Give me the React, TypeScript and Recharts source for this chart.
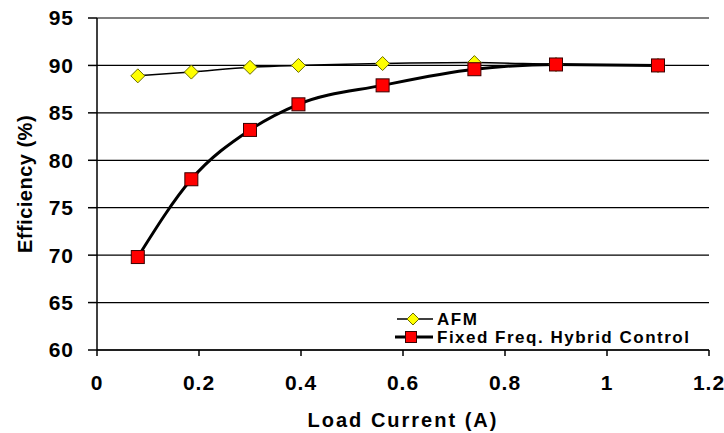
import React from "react";
import { CartesianGrid, Line, LineChart, XAxis, YAxis } from "recharts";

const loadCurrent = [0.08, 0.185, 0.3, 0.395, 0.56, 0.74, 0.9, 1.1];
const afmEfficiency = [88.9, 89.3, 89.8, 90.0, 90.2, 90.3, 90.1, 90.0];
const hybridEfficiency = [69.8, 78.0, 83.2, 85.9, 87.9, 89.6, 90.1, 90.0];
const xTicks = [0, 0.2, 0.4, 0.6, 0.8, 1, 1.2];
const yTicks = [60, 65, 70, 75, 80, 85, 90, 95];

const rows = loadCurrent.map((x, i) => ({
  x,
  afm: afmEfficiency[i],
  hybrid: hybridEfficiency[i],
}));

const FONT = "'Liberation Sans', Arial, sans-serif";
const W = 724;
const H = 433;

const Diamond = ({ cx, cy, r = 7 }: any) => (
  <path
    d={`M${cx},${cy - r} L${cx + r},${cy} L${cx},${cy + r} L${cx - r},${cy} Z`}
    fill="#ffff00"
    stroke="#6b6b00"
    strokeWidth={1}
  />
);

const Square = ({ cx, cy, s = 6.5 }: any) => (
  <rect
    x={cx - s}
    y={cy - s}
    width={s * 2}
    height={s * 2}
    fill="#ff0000"
    stroke="#3a0000"
    strokeWidth={1}
  />
);

// legend sits inside the plot, bottom right
const LegendBox = () => (
  <svg
    width={320}
    height={44}
    style={{ position: "absolute", left: 393, top: 306, fontFamily: FONT }}
  >
    <line x1={4} y1={13} x2={40} y2={13} stroke="#000" strokeWidth={1.5} />
    <Diamond cx={20} cy={13} r={6} />
    <text x={44} y={19} fontSize={17} fontWeight="bold" letterSpacing={1.5}>
      AFM
    </text>
    <line x1={2} y1={31} x2={40} y2={31} stroke="#000" strokeWidth={3} />
    <Square cx={18} cy={31} s={5.5} />
    <text x={44} y={37} fontSize={17} fontWeight="bold" letterSpacing={1.5}>
      Fixed Freq. Hybrid Control
    </text>
  </svg>
);

export default function App() {
  return (
    <div
      style={{
        position: "absolute",
        left: 0,
        top: 0,
        background: "#fff",
        width: W,
        height: H,
        overflow: "hidden",
      }}
    >
      <LineChart
        width={W}
        height={H}
        data={rows}
        margin={{ top: 18, right: 15, bottom: 0, left: 0 }}
        style={{ fontFamily: FONT }}
      >
        <CartesianGrid
          vertical={false}
          stroke="#000"
          strokeWidth={1.2}
          horizontalValues={yTicks}
        />
        <XAxis
          dataKey="x"
          type="number"
          domain={[0, 1.2]}
          ticks={xTicks}
          height={83}
          stroke="#000"
          strokeWidth={1.5}
          tickSize={6}
          tickMargin={19}
          tick={{ fill: "#000", fontSize: 21, fontWeight: "bold", letterSpacing: 1 }}
          label={({ viewBox }: any) => (
            <text
              x={viewBox.x + viewBox.width / 2}
              y={H - 6}
              textAnchor="middle"
              fontSize={20}
              fontWeight="bold"
              letterSpacing={2}
              fill="#000"
            >
              Load Current (A)
            </text>
          )}
        />
        <YAxis
          type="number"
          domain={[60, 95]}
          ticks={yTicks}
          width={97}
          stroke="#000"
          strokeWidth={1.5}
          tickSize={9}
          tickMargin={14}
          tick={{ fill: "#000", fontSize: 21, fontWeight: "bold", letterSpacing: 1 }}
          label={({ viewBox }: any) => (
            <text
              x={0}
              y={0}
              transform={`translate(32, ${viewBox.y + viewBox.height / 2}) rotate(-90)`}
              textAnchor="middle"
              fontSize={20}
              fontWeight="bold"
              letterSpacing={0.5}
              fill="#000"
            >
              Efficiency (%)
            </text>
          )}
        />
        <Line
          dataKey="afm"
          type="monotone"
          stroke="#000"
          strokeWidth={1.5}
          dot={(p: any) => <Diamond key={`a${p.index}`} cx={p.cx} cy={p.cy} />}
          isAnimationActive={false}
        />
        <Line
          dataKey="hybrid"
          type="monotone"
          stroke="#000"
          strokeWidth={3}
          dot={(p: any) => <Square key={`h${p.index}`} cx={p.cx} cy={p.cy} />}
          isAnimationActive={false}
        />
      </LineChart>
      <LegendBox />
    </div>
  );
}
